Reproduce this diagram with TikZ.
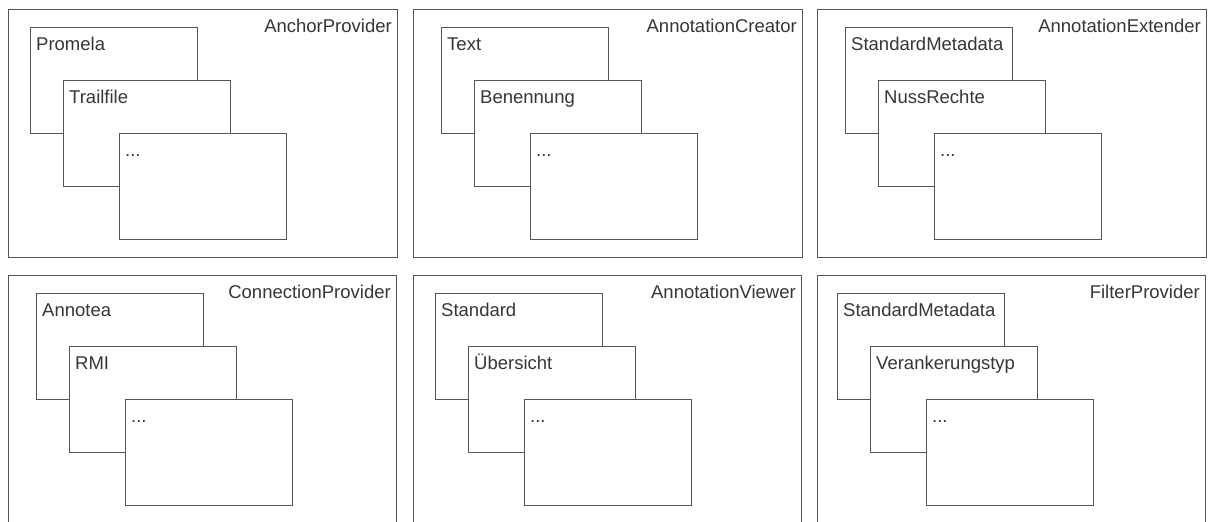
\documentclass[tikz,border=0pt]{standalone}
\usepackage{fontspec}
\setmainfont{Liberation Sans}
\definecolor{linec}{HTML}{555555}
\definecolor{textc}{HTML}{363636}
\begin{document}
\begin{tikzpicture}[x=1pt,y=-1pt,
  outerbox/.style={draw=linec, line width=1pt, inner sep=0pt, outer sep=0pt, anchor=north west},
  innerbox/.style={draw=linec, line width=1pt, fill=white, inner sep=0pt, outer sep=0pt, anchor=north west,
     minimum width=167pt, minimum height=106pt},
  lbl/.style={text=textc, inner sep=0pt, font=\fontsize{18.5}{22}\selectfont},
  dots/.style={text=textc, inner sep=0pt, font=\fontsize{15}{18}\selectfont}]
\useasboundingbox (0,0) rectangle (1208,522);
\clip (0,0) rectangle (1208,522);
\fill[white] (0,0) rectangle (1208,522);
\foreach \p/\ox/\oy/\ex/\ey/\bx/\by/\ti/\ta/\tb in {
  pa/8/9/397/257/30/27/AnchorProvider/Promela/Trailfile,
  pb/413/9/802/257/441/27/AnnotationCreator/Text/Benennung,
  pc/817/9/1206/257/845/27/AnnotationExtender/StandardMetadata/NussRechte,
  pd/8/275/396/545/36/293/ConnectionProvider/Annotea/RMI,
  pe/413/275/801/545/435/293/AnnotationViewer/Standard/Übersicht,
  pf/817/275/1205/545/837/293/FilterProvider/StandardMetadata/Verankerungstyp}{
  \node[outerbox, minimum width={(\ex-\ox)*1pt}, minimum height={(\ey-\oy)*1pt}] (\p) at (\ox,\oy) {};
  \node[lbl, anchor=base east] (\p-title) at ([xshift=-5pt,yshift=-23pt]\p.north east) {\ti};
  \node[innerbox] (\p-a) at (\bx,\by) {};
  \node[lbl, anchor=base west] (\p-ta) at ([xshift=6pt,yshift=-23pt]\p-a.north west) {\ta};
  \node[innerbox] (\p-b) at ([xshift=33pt,yshift=-53pt]\p-a.north west) {};
  \node[lbl, anchor=base west] (\p-tb) at ([xshift=6pt,yshift=-23pt]\p-b.north west) {\tb};
  \node[innerbox] (\p-c) at ([xshift=89pt,yshift=-106pt]\p-a.north west) {};
  \node[lbl, anchor=base west] (\p-tc) at ([xshift=6pt,yshift=-23pt]\p-c.north west) {...};
}
\end{tikzpicture}
\end{document}
